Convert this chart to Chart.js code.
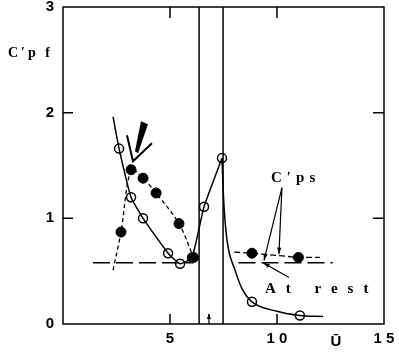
<!DOCTYPE html>
<html><head><meta charset="utf-8">
<script src="https://cdn.jsdelivr.net/npm/chart.js@4/dist/chart.umd.min.js"></script>
<style>body{margin:0;background:#fff}#wrap{width:399px;height:355px}</style>
</head><body><div id="wrap"><canvas id="c"></canvas></div>
<script>
// open circles, solid curve (C'pf)
const pfX = [2.62, 3.18, 3.74, 4.91, 5.47, 6.03, 6.59, 7.43, 8.83, 11.07];
const pfY = [1.66, 1.20, 1.00, 0.67, 0.57, 0.63, 1.11, 1.57, 0.21, 0.08];
// solid curve: rising branch, then falling branch after the peak
const riseX = [2.34, 2.62, 3.18, 3.74, 4.91, 5.47, 6.03, 6.59, 7.43];
const riseY = [1.96, 1.66, 1.20, 1.00, 0.67, 0.57, 0.63, 1.11, 1.57];
const fallX = [7.43, 7.50, 7.66, 8.04, 8.40, 8.83, 10.0, 11.07, 12.15];
const fallY = [1.57, 1.20, 0.80, 0.51, 0.32, 0.21, 0.12, 0.08, 0.07];
// filled circles, dashed curves (C'ps)
const psX = [2.71, 3.18, 3.74, 4.35, 5.42, 6.10, 8.83, 11.0];
const psY = [0.87, 1.46, 1.38, 1.24, 0.95, 0.63, 0.67, 0.63];
const psLeftX = [2.34, 2.71, 3.18, 3.74, 4.35, 5.42, 6.10];
const psLeftY = [0.51, 0.87, 1.46, 1.38, 1.24, 0.95, 0.63];
const psRightX = [8.0, 8.83, 11.0, 12.0];
const psRightY = [0.68, 0.67, 0.63, 0.63];
// "at rest" level, broken between the two vertical lines
const restX = [1.4, 6.1, 7.0, 8.2, 12.6];
const restY = [0.58, 0.58, null, 0.58, 0.58];
// vertical lines
const critX = [6.36, 7.48];
const xTicks = [5, 10, 15];
const yTicks = [0, 1, 2, 3];

const pts = (xs, ys) => xs.map((x, i) => ({ x: x, y: ys[i] }));

const deco = {
    id: 'deco',
    afterDatasetsDraw(chart) {
        const c = chart.ctx, a = chart.chartArea, sx = chart.scales.x, sy = chart.scales.y;
        const px = v => sx.getPixelForValue(v), py = v => sy.getPixelForValue(v);
        c.save();
        c.strokeStyle = '#000'; c.fillStyle = '#000';
        // frame
        c.lineWidth = 1.5;
        c.strokeRect(a.left, a.top, a.right - a.left, a.bottom - a.top);
        // inward ticks
        c.beginPath();
        [5, 10].forEach(v => { c.moveTo(px(v), a.bottom); c.lineTo(px(v), a.bottom - 10); c.moveTo(px(v), a.top); c.lineTo(px(v), a.top + 11); });
        [1, 2].forEach(v => { c.moveTo(a.left, py(v)); c.lineTo(a.left + 10, py(v)); c.moveTo(a.right, py(v)); c.lineTo(a.right - 11, py(v)); });
        c.stroke();
        // little arrow on the bottom axis
        c.lineWidth = 1.2;
        c.beginPath(); c.moveTo(px(6.82), a.bottom); c.lineTo(px(6.82), a.bottom - 10); c.stroke();
        c.beginPath(); c.moveTo(px(6.82), a.bottom - 11); c.lineTo(px(6.82) - 2, a.bottom - 5); c.lineTo(px(6.82) + 2, a.bottom - 5); c.fill();

        function arrow(x1, y1, x2, y2, head) {
            const X1 = px(x1), Y1 = py(y1), X2 = px(x2), Y2 = py(y2);
            const ang = Math.atan2(Y2 - Y1, X2 - X1);
            c.beginPath(); c.moveTo(X1, Y1); c.lineTo(X2, Y2); c.stroke();
            c.beginPath();
            c.moveTo(X2, Y2);
            c.lineTo(X2 - head * Math.cos(ang - 0.3), Y2 - head * Math.sin(ang - 0.3));
            c.lineTo(X2 - head * Math.cos(ang + 0.3), Y2 - head * Math.sin(ang + 0.3));
            c.closePath(); c.fill();
        }
        c.lineWidth = 1.2;
        arrow(10.23, 1.29, 9.39, 0.60, 7);
        arrow(10.23, 1.29, 10.09, 0.66, 7);
        arrow(10.56, 0.44, 9.35, 0.58, 7);

        // big arrow pointing at the jump
        const tx = px(3.27), ty = py(1.54);
        c.beginPath();
        c.moveTo(tx + 8, ty - 40); c.lineTo(tx + 15, ty - 37); c.lineTo(tx + 5, ty - 8); c.lineTo(tx + 2, ty - 10);
        c.closePath(); c.fill();
        c.lineWidth = 2;
        c.beginPath(); c.moveTo(tx - 6, ty - 26); c.lineTo(tx, ty); c.lineTo(tx + 19, ty - 18); c.stroke();

        // texts
        c.textBaseline = 'middle';
        c.textAlign = 'left';
        c.font = 'bold 14px "Liberation Serif"';
        c.letterSpacing = '3px';
        c.fillText("C\u2032p f", 8, 53);
        c.font = 'bold 15px "Liberation Serif"';
        c.letterSpacing = '5px';
        c.fillText("C\u2032ps", 271, 178);
        c.letterSpacing = '10px';
        c.fillText("At rest", 265, 289);
        c.letterSpacing = '0px';
        c.font = 'bold 15px "Liberation Sans"';
        c.textAlign = 'center';
        c.fillText("\u016A", 336, 342);
        c.restore();
    }
};

new Chart(document.getElementById('c'), {
    type: 'scatter',
    data: {
        datasets: [
            { data: pts(riseX, riseY), showLine: true, borderColor: '#000', borderWidth: 1.5, pointRadius: 0, tension: 0.15 },
            { data: pts(fallX, fallY), showLine: true, borderColor: '#000', borderWidth: 1.5, pointRadius: 0, cubicInterpolationMode: 'monotone' },
            { data: pts(psLeftX, psLeftY), showLine: true, borderColor: '#000', borderWidth: 1.3, borderDash: [4, 3], pointRadius: 0, tension: 0.3 },
            { data: pts(psRightX, psRightY), showLine: true, borderColor: '#000', borderWidth: 1.3, borderDash: [6, 3], pointRadius: 0 },
            { data: pts(restX, restY), showLine: true, borderColor: '#000', borderWidth: 1.5, borderDash: [17, 6], pointRadius: 0, spanGaps: false },
            { data: [{ x: critX[0], y: 0 }, { x: critX[0], y: 3 }], showLine: true, borderColor: '#000', borderWidth: 1.5, pointRadius: 0 },
            { data: [{ x: critX[1], y: 0 }, { x: critX[1], y: 3 }], showLine: true, borderColor: '#000', borderWidth: 1.5, pointRadius: 0 },
            { data: pts(psX, psY), pointRadius: 5, backgroundColor: '#000', borderColor: '#000', borderWidth: 1 },
            { data: pts(pfX, pfY), pointRadius: 4.5, backgroundColor: '#fff', borderColor: '#000', borderWidth: 1.5 }
        ]
    },
    options: {
        responsive: true, maintainAspectRatio: false, animation: false,
        layout: { padding: { top: 7, right: 15, left: 0, bottom: 0 } },
        plugins: { legend: { display: false }, tooltip: { enabled: false } },
        scales: {
            x: {
                min: 0, max: 15,
                afterBuildTicks: s => { s.ticks = xTicks.map(v => ({ value: v })); },
                afterFit: s => { s.height = 31; s.paddingLeft = 0; s.paddingRight = 0; },
                grid: { display: false, drawTicks: false },
                border: { display: false },
                ticks: { padding: 6, color: '#000', font: { family: 'Liberation Sans', weight: 'bold', size: 15 },
                    callback: v => String(v).split('').join(' ') }
            },
            y: {
                min: 0, max: 3,
                afterBuildTicks: s => { s.ticks = yTicks.map(v => ({ value: v })); },
                afterFit: s => { s.width = 63; s.paddingTop = 0; s.paddingBottom = 0; },
                grid: { display: false, drawTicks: false },
                border: { display: false },
                ticks: { padding: 9, color: '#000', font: { family: 'Liberation Sans', weight: 'bold', size: 15 } }
            }
        }
    },
    plugins: [deco]
});
</script>
</body></html>
